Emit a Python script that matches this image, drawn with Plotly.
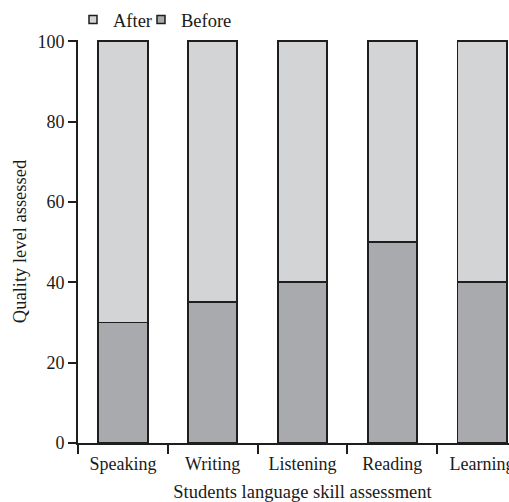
import plotly.graph_objects as go

categories = ["Speaking", "Writing", "Listening", "Reading", "Learning"]
before = [30, 35, 40, 50, 40]
after = [70, 65, 60, 50, 60]
y_ticks = [0, 20, 40, 60, 80, 100]

FONT = "Liberation Serif"
C_AFTER = "#d3d4d6"
C_BEFORE = "#a9aaad"
EDGE = "#1e1e1e"
TXT = "#1a1a1a"

fig = go.Figure()
fig.add_trace(go.Bar(x=categories, y=before, name="Before",
                     marker=dict(color=C_BEFORE, line=dict(color=EDGE, width=1.8)),
                     showlegend=False, width=0.55))
fig.add_trace(go.Bar(x=categories, y=after, name="After",
                     marker=dict(color=C_AFTER, line=dict(color=EDGE, width=1.8)),
                     showlegend=False, width=0.55))
# legend entries
fig.add_trace(go.Scatter(x=[None], y=[None], mode="markers", name="After", legend="legend",
                         marker=dict(symbol="square", size=8, color=C_AFTER, line=dict(color=EDGE, width=1.5))))
fig.add_trace(go.Scatter(x=[None], y=[None], mode="markers", name="Before", legend="legend2",
                         marker=dict(symbol="square", size=8, color=C_BEFORE, line=dict(color=EDGE, width=1.5))))

PLOT_W = 449  # plot area continues past the right edge of the visible window
leg_common = dict(orientation="h", xanchor="left", y=1.0496, yanchor="middle",
                  font=dict(family=FONT, size=18.5, color=TXT), itemwidth=30, bgcolor="rgba(0,0,0,0)")

fig.update_layout(
    width=78 + PLOT_W, height=502,
    barmode="stack",
    paper_bgcolor="white", plot_bgcolor="white",
    margin=dict(l=78, r=0, t=40, b=59),
    font=dict(family=FONT, size=18, color=TXT),
    legend=dict(x=-5 / PLOT_W, **leg_common),
    legend2=dict(x=63 / PLOT_W, **leg_common),
    xaxis=dict(
        range=[-0.5, 4.5],
        automargin=False,
        showline=True, linecolor=EDGE, linewidth=1.8,
        ticks="outside", ticklen=9, tickwidth=1.6, tickcolor=EDGE,
        tickson="boundaries", ticklabelstandoff=3,
        showgrid=False, zeroline=False,
        title=dict(text="Students language skill assessment", standoff=13,
                   font=dict(family=FONT, size=18.5, color=TXT)),
        tickfont=dict(family=FONT, size=18, color=TXT),
    ),
    yaxis=dict(
        range=[0, 100.3],
        automargin=False,
        tickvals=y_ticks, ticktext=[str(v) for v in y_ticks],
        showline=True, linecolor=EDGE, linewidth=1.8,
        ticks="outside", ticklen=8, tickwidth=1.6, tickcolor=EDGE,
        showgrid=False, zeroline=False,
        title=dict(text="Quality level assessed", standoff=6,
                   font=dict(family=FONT, size=18.5, color=TXT)),
        tickfont=dict(family=FONT, size=18, color=TXT),
    ),
)

fig.write_html("out.html", config={"displayModeBar": False},
               post_script="document.body.style.margin='0px';document.body.style.overflow='hidden';")
